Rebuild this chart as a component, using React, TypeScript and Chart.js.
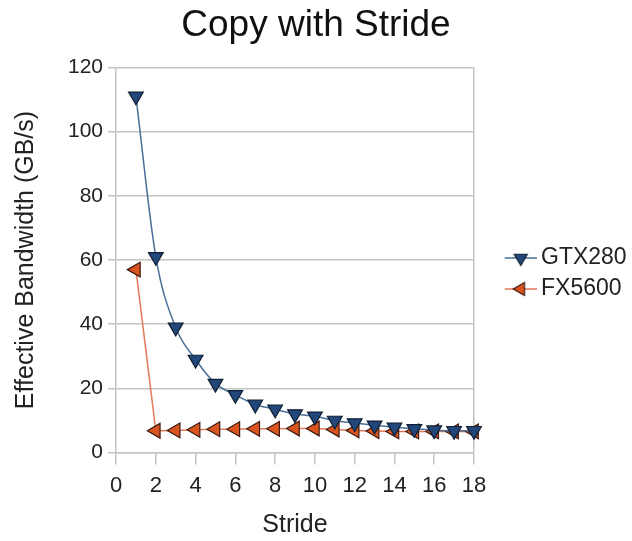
import React, { useEffect, useRef } from "react";
import { Chart, registerables } from "chart.js";

Chart.register(...registerables);

const strides = [1, 2, 3, 4, 5, 6, 7, 8, 9, 10, 11, 12, 13, 14, 15, 16, 17, 18];
const gtx280 = [111, 61, 39, 29, 21.5, 18, 15, 13.5, 12, 11.3, 10, 9.2, 8.5, 7.9, 7.4, 7, 6.8, 6.8];
const fx5600 = [57, 6.8, 6.9, 7.1, 7.3, 7.3, 7.4, 7.4, 7.5, 7.5, 7.2, 6.9, 6.7, 6.6, 6.6, 6.6, 6.6, 6.6];
const seriesNames = ["GTX280", "FX5600"];
const chartTitle = "Copy with Stride";
const xTitle = "Stride";
const yTitle = "Effective Bandwidth (GB/s)";

const FONT = "'Liberation Sans', Arial, Helvetica, sans-serif";
const GTX_FILL = "#22477a";
const GTX_BORDER = "#0f1e33";
const GTX_LINE = "#4a6f98";
const FX_FILL = "#da5420";
const FX_BORDER = "#3a1a10";
const FX_LINE = "#e2795a";
const GRID = "#c4c4c4";

// legend icon: transparent left half so the visible icon sits at the right of its slot
function makeIcon(line: string, fill: string, border: string, rotationDeg: number) {
  const c = document.createElement("canvas");
  c.width = 62;
  c.height = 20;
  const ctx = c.getContext("2d")!;
  ctx.strokeStyle = line;
  ctx.lineWidth = 1.5;
  ctx.beginPath();
  ctx.moveTo(30, 10);
  ctx.lineTo(62, 10);
  ctx.stroke();
  const r = 7.5;
  const rad = (rotationDeg * Math.PI) / 180;
  ctx.beginPath();
  for (let k = 0; k < 3; k++) {
    const a = rad + (k * 2 * Math.PI) / 3;
    const px = 46 + Math.sin(a) * r;
    const py = 10 - Math.cos(a) * r;
    if (k === 0) ctx.moveTo(px, py);
    else ctx.lineTo(px, py);
  }
  ctx.closePath();
  ctx.fillStyle = fill;
  ctx.fill();
  ctx.strokeStyle = border;
  ctx.lineWidth = 1.2;
  ctx.stroke();
  return c;
}

export default function App() {
  const ref = useRef<HTMLCanvasElement | null>(null);

  useEffect(() => {
    if (!ref.current) return;
    const icons = [
      makeIcon(GTX_LINE, GTX_FILL, GTX_BORDER, 180),
      makeIcon(FX_LINE, FX_FILL, FX_BORDER, 270),
    ];
    const chart = new Chart(ref.current, {
      type: "line",
      data: {
        datasets: [
          {
            label: seriesNames[0],
            data: strides.map((s, i) => ({ x: s, y: gtx280[i] })),
            borderColor: GTX_LINE,
            borderWidth: 1.5,
            backgroundColor: GTX_FILL,
            pointBackgroundColor: GTX_FILL,
            pointBorderColor: GTX_BORDER,
            pointBorderWidth: 1.2,
            pointStyle: "triangle",
            pointRotation: 180,
            pointRadius: 8.5,
            cubicInterpolationMode: "monotone",
            clip: false,
            order: 1,
          },
          {
            label: seriesNames[1],
            data: strides.map((s, i) => ({ x: s, y: fx5600[i] })),
            borderColor: FX_LINE,
            borderWidth: 1.5,
            backgroundColor: FX_FILL,
            pointBackgroundColor: FX_FILL,
            pointBorderColor: FX_BORDER,
            pointBorderWidth: 1.2,
            pointStyle: "triangle",
            pointRotation: 270,
            pointRadius: 8.5,
            tension: 0,
            clip: false,
            order: 2,
          },
        ],
      },
      options: {
        animation: false,
        responsive: false,
        maintainAspectRatio: false,
        devicePixelRatio: 1,
        layout: { padding: { left: 0, right: 0, top: 0, bottom: 0 } },
        plugins: {
          title: {
            display: true,
            text: chartTitle,
            color: "#111",
            font: { family: FONT, size: 37, weight: "normal" },
            padding: { top: 4, bottom: 19 },
          },
          legend: {
            display: true,
            position: "right",
            title: {
              display: true,
              text: " ",
              font: { family: FONT, size: 5 },
              padding: 0,
            },
            labels: {
              usePointStyle: true,
              pointStyleWidth: 47.5,
              padding: 8,
              color: "#222",
              font: { family: FONT, size: 23 },
              generateLabels: (ch: any) =>
                ch.data.datasets.map((ds: any, i: number) => ({
                  text: ds.label,
                  pointStyle: icons[i],
                  rotation: 0,
                  fillStyle: ds.pointBackgroundColor,
                  strokeStyle: ds.pointBorderColor,
                  lineWidth: 1,
                  hidden: false,
                  datasetIndex: i,
                  fontColor: "#222",
                })),
            },
          },
          tooltip: { enabled: false },
        },
        scales: {
          x: {
            type: "linear",
            min: 0,
            max: 18,
            ticks: {
              stepSize: 2,
              color: "#222",
              padding: 8,
              font: { family: FONT, size: 22 },
            },
            grid: {
              color: (ctx: any) => (ctx.tick && ctx.tick.value === 18 ? GRID : "rgba(0,0,0,0)"),
              tickColor: GRID,
              lineWidth: 1.5,
              tickLength: 12,
            },
            border: { display: true, color: GRID, width: 1.5 },
            title: {
              display: true,
              text: xTitle,
              color: "#222",
              font: { family: FONT, size: 25 },
              padding: { top: 3, bottom: 1 },
            },
          },
          y: {
            type: "linear",
            min: 0,
            max: 120,
            ticks: {
              stepSize: 20,
              color: "#222",
              padding: 5,
              font: { family: FONT, size: 21 },
            },
            grid: {
              color: GRID,
              tickColor: GRID,
              lineWidth: 1.5,
              tickLength: 8,
            },
            border: { display: true, color: GRID, width: 1.5 },
            title: {
              display: true,
              text: yTitle,
              color: "#222",
              font: { family: FONT, size: 25 },
              padding: { top: 11, bottom: 22 },
            },
          },
        },
      },
    });
    return () => chart.destroy();
  }, []);

  return (
    <div style={{ position: "fixed", left: 0, top: 0, width: 632, height: 541, background: "#fff" }}>
      <canvas ref={ref} width={632} height={541} style={{ width: 632, height: 541, display: "block" }} />
    </div>
  );
}
